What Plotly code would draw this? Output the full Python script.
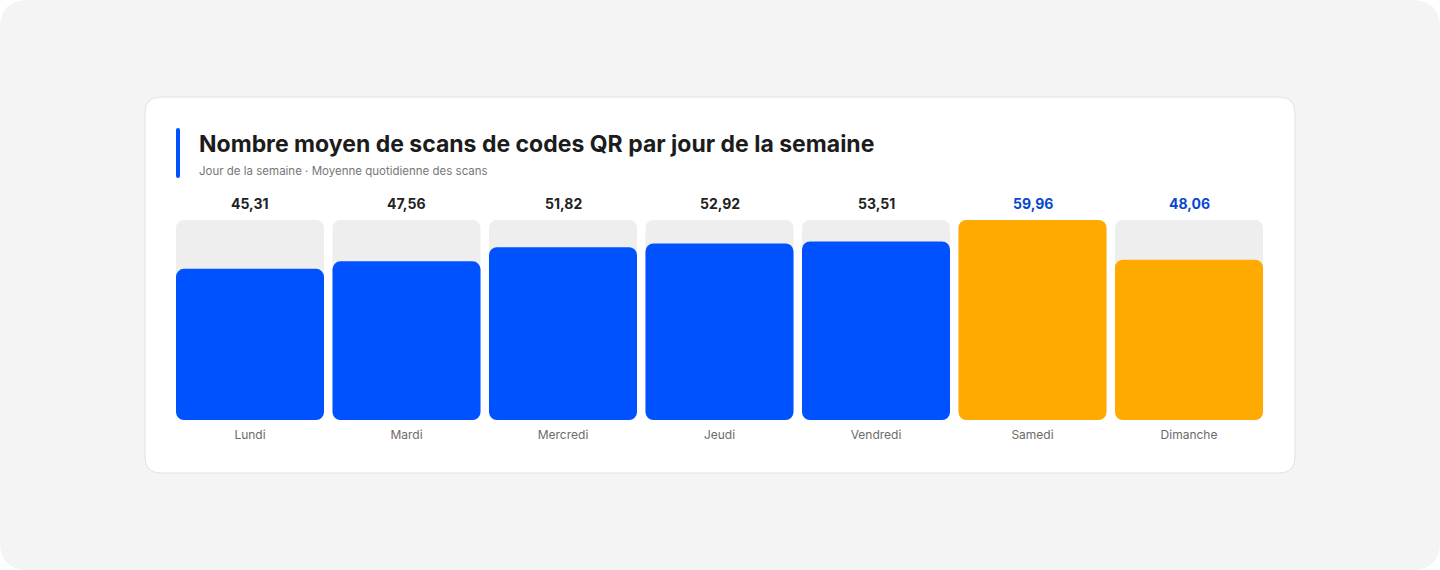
import plotly.graph_objects as go

W, H = 1440, 570

days = ['Lundi', 'Mardi', 'Mercredi', 'Jeudi', 'Vendredi', 'Samedi', 'Dimanche']
scans = [45.31, 47.56, 51.82, 52.92, 53.51, 59.96, 48.06]
weekend = [False, False, False, False, False, True, True]

BLUE = '#0052ff'
ORANGE = '#ffaa00'
TRACK = '#eeeeee'
FONT = 'Inter'


def px(x, y):
    # pixel -> paper coords
    return x / W, 1 - y / H


def rounded_rect(x0, y0, x1, y1, r):
    # path for a rounded rectangle given in pixels
    pts = [
        ('M', x0 + r, y0), ('L', x1 - r, y0), ('Q', x1, y0, x1, y0 + r),
        ('L', x1, y1 - r), ('Q', x1, y1, x1 - r, y1),
        ('L', x0 + r, y1), ('Q', x0, y1, x0, y1 - r),
        ('L', x0, y0 + r), ('Q', x0, y0, x0 + r, y0),
    ]
    out = []
    for p in pts:
        cmd, coords = p[0], p[1:]
        xy = []
        for i in range(0, len(coords), 2):
            a, b = px(coords[i], coords[i + 1])
            xy.append(f'{a:.5f},{b:.5f}')
        out.append(cmd + ' '.join(xy))
    return ' '.join(out) + ' Z'


vmax = max(scans)
bar_colors = [ORANGE if w else BLUE for w in weekend]

fig = go.Figure()
# explicit base -> plotly rounds both ends of the bar
fig.add_bar(x=days, y=[vmax] * len(days), base=[0] * len(days),
            marker=dict(color=TRACK, cornerradius=8, line_width=0), hoverinfo='skip')
fig.add_bar(x=days, y=scans, base=[0] * len(days),
            marker=dict(color=bar_colors, cornerradius=8, line_width=0), hoverinfo='skip')

# value labels above the tracks
for d, v, w in zip(days, scans, weekend):
    fig.add_annotation(x=d, y=vmax, yanchor='bottom', yshift=6, showarrow=False,
                       text=f'{v:.2f}'.replace('.', ','),
                       font=dict(family=FONT, size=14, color='#0a47cc' if w else '#222222', weight='bold'))

# title, subtitle
tx, ty = px(197, 144)
fig.add_annotation(xref='paper', yref='paper', x=tx, y=ty, xanchor='left', yanchor='middle',
                   showarrow=False, text='Nombre moyen de scans de codes QR par jour de la semaine',
                   font=dict(family=FONT, size=23, color='#1c1c1c', weight='bold'))
sx, sy = px(197, 171)
fig.add_annotation(xref='paper', yref='paper', x=sx, y=sy, xanchor='left', yanchor='middle',
                   showarrow=False, text='Jour de la semaine · Moyenne quotidienne des scans',
                   font=dict(family=FONT, size=11.5, color='#777777'))

shapes = [
    dict(type='path', xref='paper', yref='paper', layer='below', path=rounded_rect(0, 0, W, H, 28),
         fillcolor='#f4f4f4', line_width=0),
    dict(type='path', xref='paper', yref='paper', layer='below', path=rounded_rect(145, 97, 1295, 473, 16),
         fillcolor='#ffffff', line=dict(color='#e2e2e2', width=1)),
    dict(type='path', xref='paper', yref='paper', layer='below', path=rounded_rect(176, 128, 180, 178, 2),
         fillcolor=BLUE, line_width=0),
]

x0, y_top = px(171.75, 220)
x1, y_bot = px(1267.25, 420)

fig.update_layout(
    width=W, height=H,
    margin=dict(l=0, r=0, t=0, b=0),
    paper_bgcolor='#ffffff', plot_bgcolor='rgba(0,0,0,0)',
    barmode='overlay', bargap=0.054, showlegend=False,
    shapes=shapes,
    xaxis=dict(domain=[x0, x1], showgrid=False, zeroline=False, showline=False, ticks='',
               ticklabelstandoff=6, tickfont=dict(family=FONT, size=12, color='#6b6b6b'),
               fixedrange=True),
    yaxis=dict(domain=[y_bot, y_top], range=[0, vmax], visible=False, fixedrange=True),
)

fig.write_html('out.html', config={'displayModeBar': False},
               post_script="document.body.style.margin='0';")
